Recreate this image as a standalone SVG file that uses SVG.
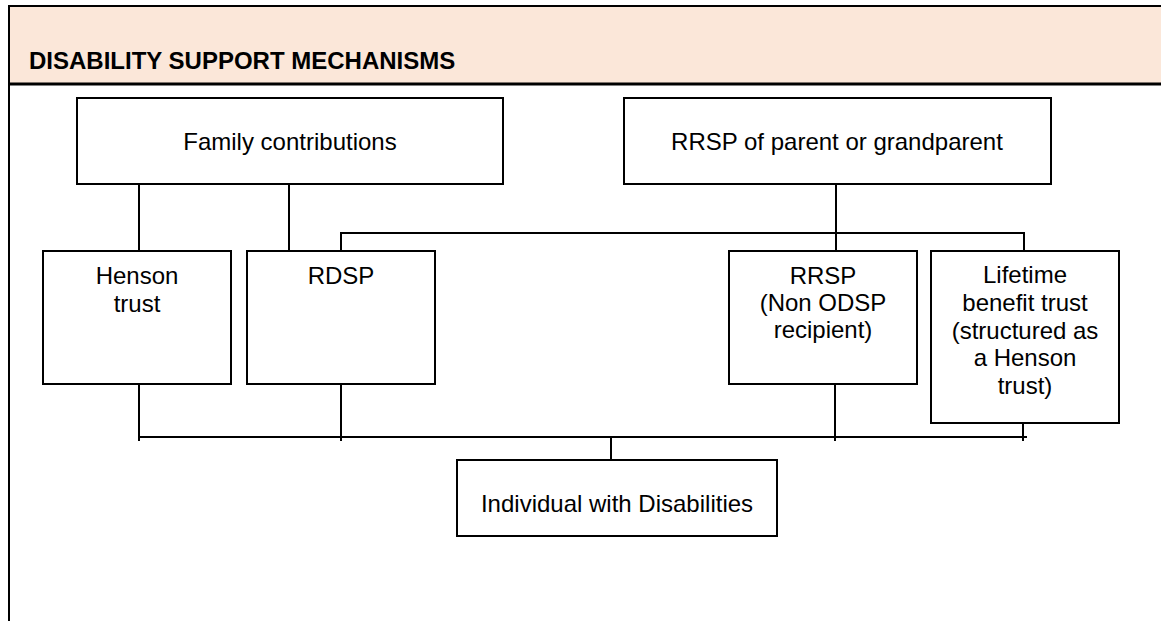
<svg xmlns="http://www.w3.org/2000/svg" width="1161" height="621" viewBox="0 0 1161 621">
<style>
text{font-family:"Liberation Sans",Arial,sans-serif;font-size:24px;fill:#000}
.t{text-anchor:middle}
.title{font-weight:bold}
.box{fill:#fff;stroke:#000;stroke-width:2}
.c{stroke:#000;stroke-width:2;fill:none}
</style>
<rect x="0" y="0" width="1161" height="621" fill="#fff"/>
<g id="header">
<rect x="8" y="6" width="1153" height="78" fill="#FBE7D9"/>
<line x1="8" y1="6" x2="1161" y2="6" stroke="#000" stroke-width="2"/>
<line x1="8" y1="84" x2="1161" y2="84" stroke="#000" stroke-width="3"/>
<line x1="9" y1="6" x2="9" y2="621" stroke="#000" stroke-width="2"/>
<text class="title" x="29" y="69">DISABILITY SUPPORT MECHANISMS</text>
</g>
<g id="connectors">
<line class="c" x1="139" y1="184" x2="139" y2="251"/>
<line class="c" x1="289" y1="184" x2="289" y2="251"/>
<line class="c" x1="836" y1="184" x2="836" y2="251"/>
<polyline class="c" points="341,251 341,233 1024,233 1024,251"/>
<line class="c" x1="139" y1="437" x2="1027" y2="437"/>
<line class="c" x1="139" y1="384" x2="139" y2="441"/>
<line class="c" x1="341" y1="384" x2="341" y2="441"/>
<line class="c" x1="835" y1="384" x2="835" y2="441"/>
<line class="c" x1="1023" y1="423" x2="1023" y2="441"/>
<line class="c" x1="611" y1="437" x2="611" y2="460"/>
</g>
<g id="family">
<rect class="box" x="77" y="98" width="426" height="86"/>
<text class="t" x="290" y="150">Family contributions</text>
</g>
<g id="rrsp-parent">
<rect class="box" x="624" y="98" width="427" height="86"/>
<text class="t" x="837" y="150">RRSP of parent or grandparent</text>
</g>
<g id="henson">
<rect class="box" x="43" y="251" width="188" height="133"/>
<text class="t" x="137" y="284">Henson</text>
<text class="t" x="137" y="312">trust</text>
</g>
<g id="rdsp">
<rect class="box" x="247" y="251" width="188" height="133"/>
<text class="t" x="341" y="284">RDSP</text>
</g>
<g id="rrsp">
<rect class="box" x="729" y="251" width="188" height="133"/>
<text class="t" x="823" y="284">RRSP</text>
<text class="t" x="823" y="311">(Non ODSP</text>
<text class="t" x="823" y="338">recipient)</text>
</g>
<g id="lifetime">
<rect class="box" x="931" y="251" width="188" height="172"/>
<text class="t" x="1025" y="283">Lifetime</text>
<text class="t" x="1025" y="311">benefit trust</text>
<text class="t" x="1025" y="339">(structured as</text>
<text class="t" x="1025" y="366">a Henson</text>
<text class="t" x="1025" y="394">trust)</text>
</g>
<g id="individual">
<rect class="box" x="457" y="460" width="320" height="76"/>
<text class="t" x="617" y="512">Individual with Disabilities</text>
</g>
</svg>
